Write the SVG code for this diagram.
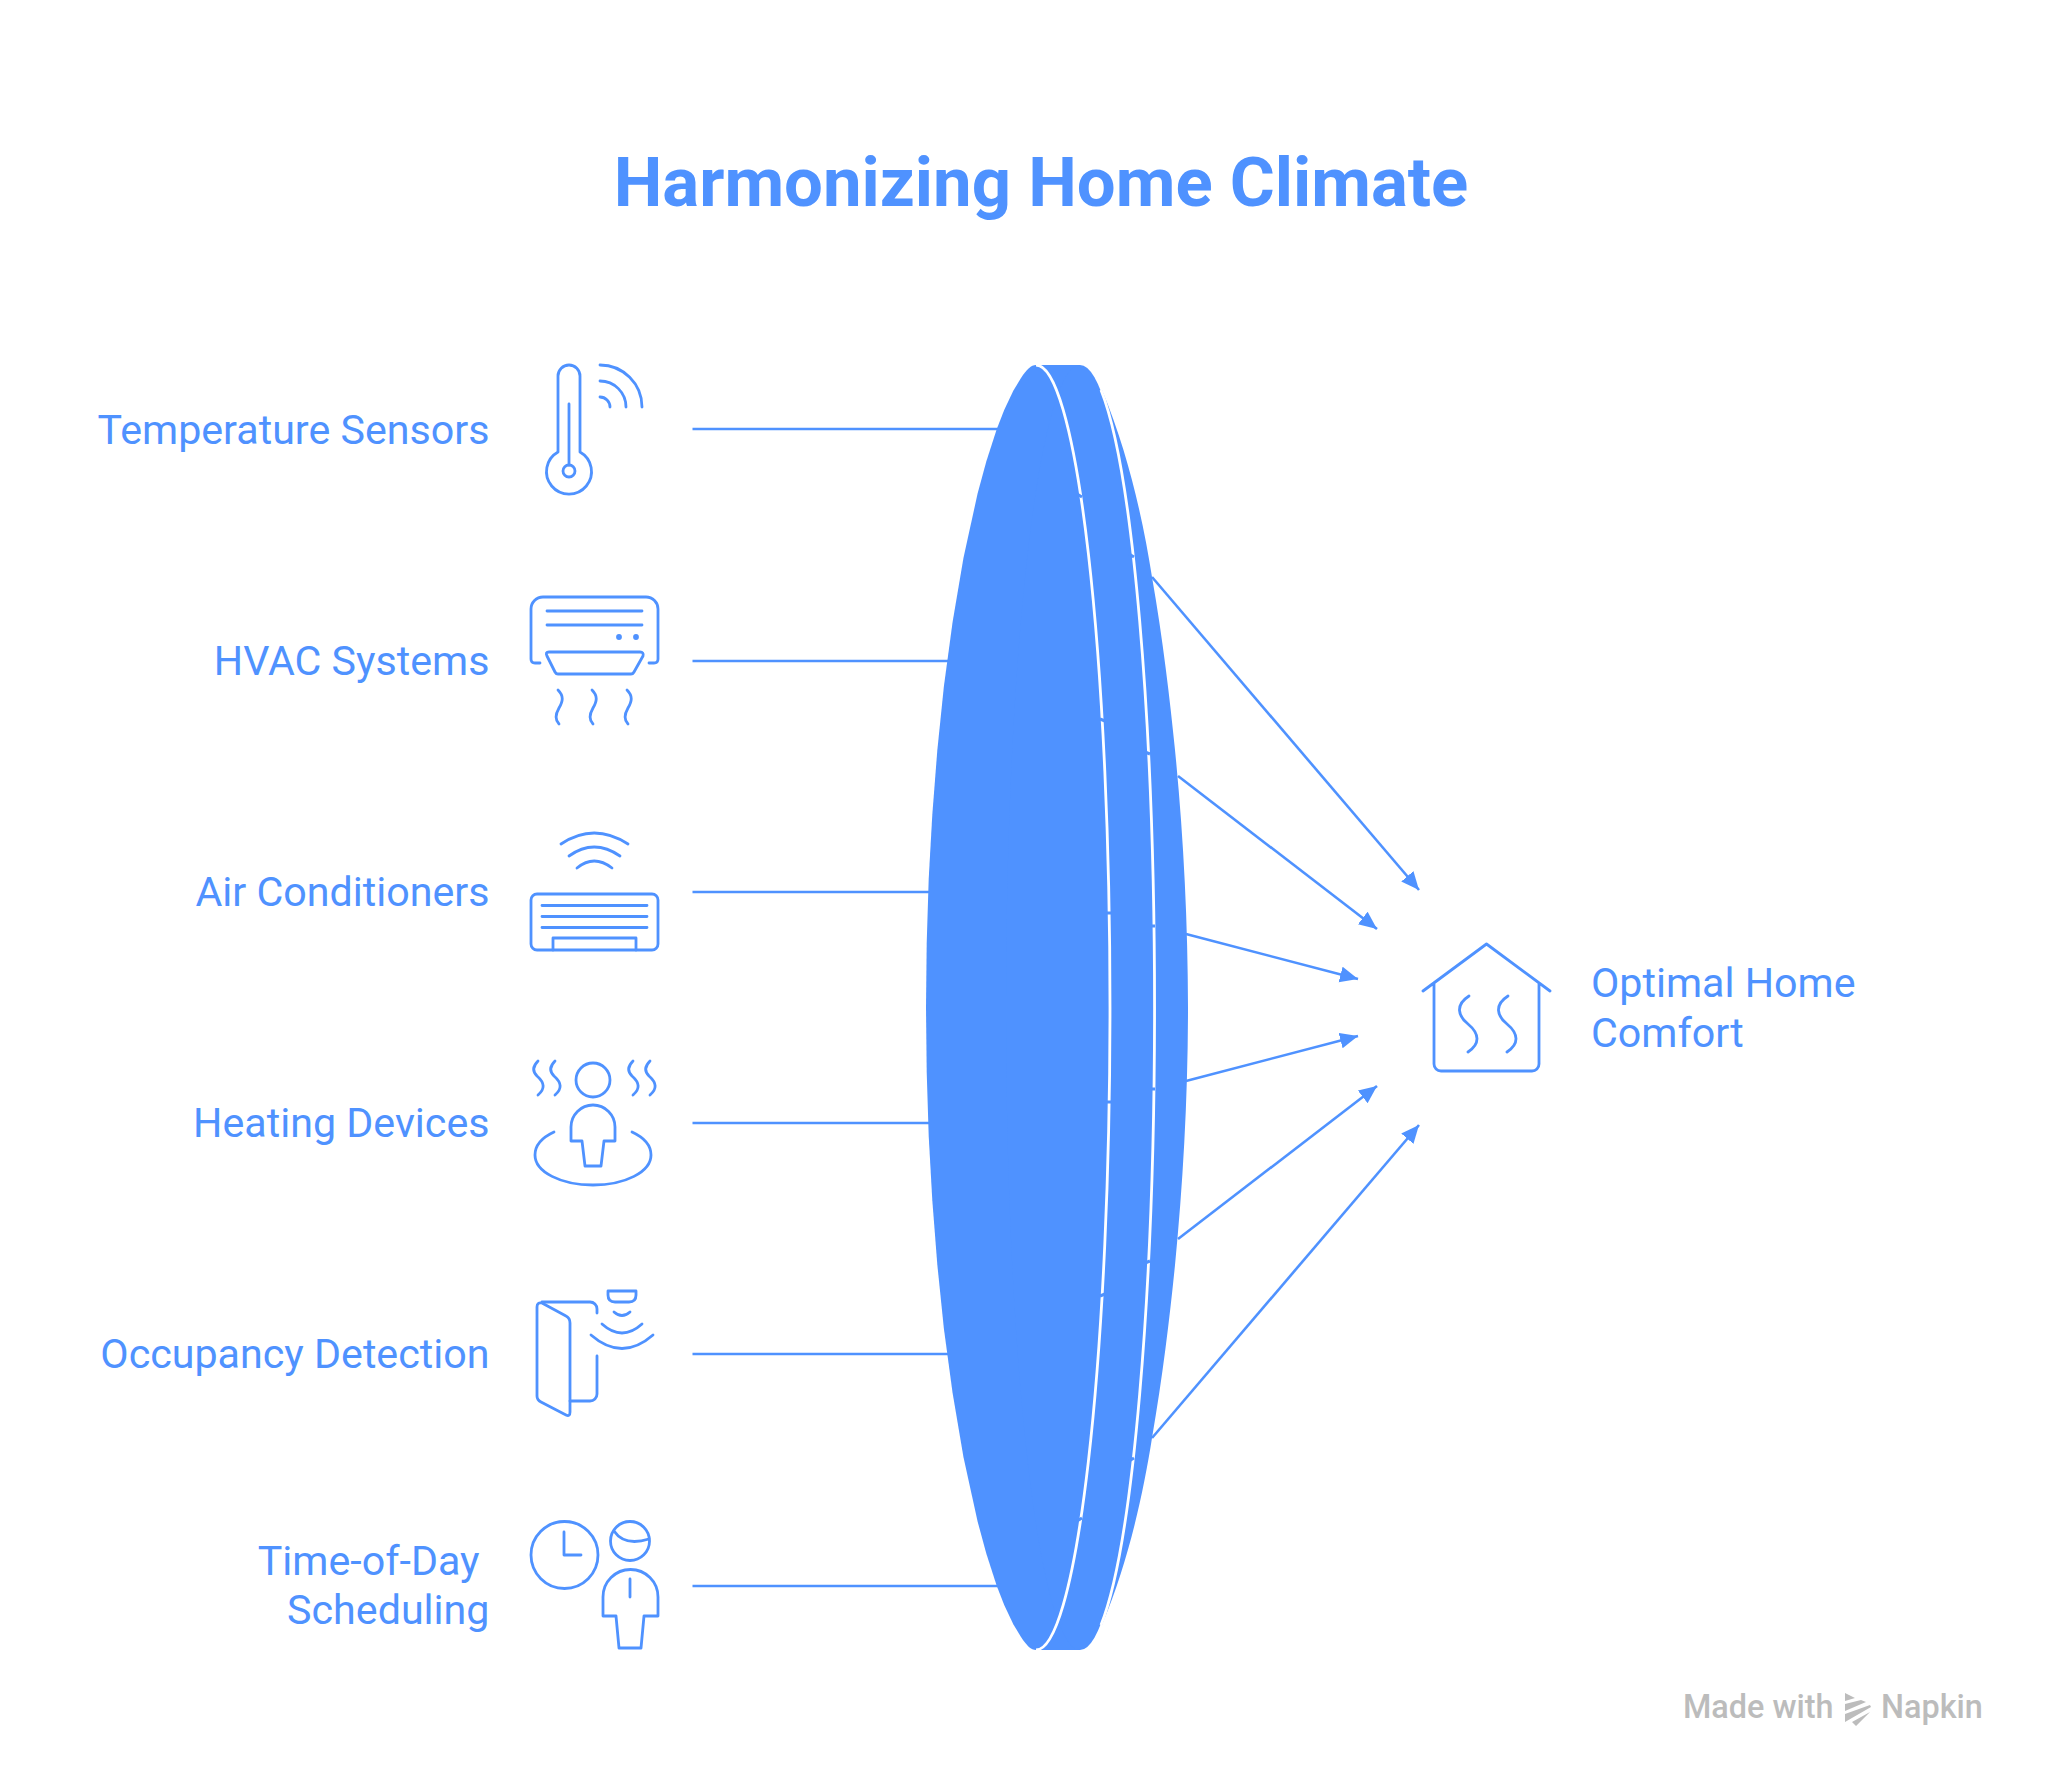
<svg xmlns="http://www.w3.org/2000/svg" width="2048" height="1784" viewBox="0 0 2048 1784">
<style>
.t{font-family:Roboto,"Liberation Sans",sans-serif;fill:#4f92ff;font-size:41.2px}
.e{text-anchor:end}
.i,.i *{fill:none;stroke:#4f92ff;stroke-width:2.8;stroke-linecap:round;stroke-linejoin:round}
.c{stroke:#4f92ff;stroke-width:2.6;fill:none}
.w{fill:none;stroke:#fff;stroke-width:2.8}
.k{fill:none;stroke:#4f92ff;stroke-width:3}
.b{fill:#4f92ff}
.g{font-family:Roboto,"Liberation Sans",sans-serif;font-size:32.4px;font-weight:500;fill:#bcbcbc}
</style>
<defs><marker id="a" markerUnits="userSpaceOnUse" markerWidth="20" markerHeight="20" refX="18" refY="8" orient="auto"><path d="M0 0L18 8L0 16Z" fill="#4f92ff"/></marker></defs>
<rect width="2048" height="1784" fill="#fff"/>
<text id="title" x="1041" y="206" text-anchor="middle" style="font-family:Roboto,'Liberation Sans',sans-serif;font-size:68.9px;font-weight:700;fill:#4f92ff">Harmonizing Home Climate</text>
<g id="connectors">
<path class="c" d="M692.500 429H1010M692.500 661H960M692.500 892H940M692.500 1123H940M692.500 1354H960M692.500 1586H1010"/>
<path class="c" marker-end="url(#a)" d="M1152 577L1419 890"/>
<path class="c" marker-end="url(#a)" d="M1178 776L1377 929"/>
<path class="c" marker-end="url(#a)" d="M1186 934L1358 979"/>
<path class="c" marker-end="url(#a)" d="M1186 1081L1358 1036"/>
<path class="c" marker-end="url(#a)" d="M1178 1239L1377 1086"/>
<path class="c" marker-end="url(#a)" d="M1152 1438L1419 1125"/>
</g>
<g id="lens">
<path class="b" d="M1036 365C1031 365 1027 369 1021 378L1013.300 390.700L1004.200 410L996.700 429.300L986.300 461.400L977.600 493.500L963.500 557.800L952.600 622L943.900 686.300L937.300 750.500L932.300 814.800L928.700 879L926.700 943.300L926 1007.500L926.700 1071.700L928.700 1136L932.300 1200.200L937.300 1264.500L943.900 1328.700L952.600 1393L963.500 1457.200L977.600 1521.500L986.300 1553.600L996.700 1585.700L1004.200 1605L1013.300 1624.300L1021 1637C1027 1646 1031 1650 1036 1650Z"/>
<rect class="b" x="1036" y="365" width="44" height="1285"/>
<ellipse class="b" cx="1080" cy="1007.5" rx="74" ry="642.5"/>
<path class="b" d="M1102 390C1128 452 1143 520 1152 577C1163 640 1170 700 1175 750C1183 830 1188 920 1188 1007.5C1188 1095 1183 1185 1175 1265C1170 1315 1163 1375 1152 1438C1143 1495 1128 1563 1102 1625Z"/>
<path class="w" d="M1036 365A74 642.5 0 0 1 1036 1650"/>
<path class="w" d="M1101 390A74 642.5 0 0 1 1101 1625"/>
<path class="k" d="M1077 494L1082 497M1100 719L1105 721M1107 913H1112M1107 1102H1112M1100 1296L1105 1294M1077 1521L1082 1518M1129 554L1134 557M1145 752L1150 754M1150 926H1155M1150 1089H1155M1145 1263L1150 1261M1129 1461L1134 1458"/>
</g>
<g id="n1"><text class="t e" x="489.500" y="444">Temperature Sensors</text>
<g class="i"><path d="M558 452V376A11 11 0 0 1 580 376V452A22.5 22.5 0 1 1 558 452Z"/><circle cx="569" cy="471" r="6"/><path d="M569 404V465M600 365A42 42 0 0 1 642 407M600 381A26 26 0 0 1 626 407M600 397A10 10 0 0 1 610 407"/></g></g>
<g id="n2"><text class="t e" x="489.500" y="675">HVAC Systems</text>
<g class="i"><path d="M540 663H535Q531 663 531 659V609A12 12 0 0 1 543 597H646A12 12 0 0 1 658 609V659Q658 663 654 663H649M547 611H642M547 625H642"/><path d="M549 652H640Q644 652 643 656L634 672Q633 674 631 674H558Q556 674 555 672L547 656Q545 652 549 652Z"/><circle cx="619" cy="637" r="1.5"/><circle cx="636" cy="637" r="1.5"/><path d="M558 690C564 696 563 701 559 708C555 715 555 720 559 724M592 690C598 696 597 701 593 708C589 715 589 720 593 724M627 690C633 696 632 701 628 708C624 715 624 720 628 724"/></g></g>
<g id="n3"><text class="t e" x="489.500" y="906">Air Conditioners</text>
<g class="i"><path d="M561 844Q594 822 628 844M569 856Q594 838 620 856M577 868Q594 854 612 868"/><rect x="531" y="894" width="127" height="56" rx="6"/><path d="M542 905.5H647M542 916.5H647M542 927.5H647M553 950V938H636V950"/></g></g>
<g id="n4"><text class="t e" x="489.500" y="1137">Heating Devices</text>
<g class="i"><circle cx="593" cy="1080" r="17"/><path d="M571 1141V1127A22 22 0 0 1 615 1127V1141H604L601 1166H585L582 1141Z"/><path d="M554 1132C541 1138 535 1146 535 1155C535 1172 561 1185 593 1185C625 1185 651 1172 651 1155C651 1146 645 1138 632 1132"/><path d="M538 1061C532 1067 533 1072 537 1076C545 1083 545 1089 538 1095M555 1061C549 1067 550 1072 554 1076C562 1083 562 1089 555 1095M633 1061C627 1067 628 1072 632 1076C640 1083 640 1089 633 1095M650 1061C644 1067 645 1072 649 1076C657 1083 657 1089 650 1095"/></g></g>
<g id="n5"><text class="t e" x="489.500" y="1368">Occupancy Detection</text>
<g class="i"><path d="M597 1313V1309A7 7 0 0 0 590 1302H542M570 1401H590A7 7 0 0 0 597 1394V1356"/><path d="M542 1303L566 1316Q570 1318 570 1323V1412Q570 1417 566 1415L541 1402Q537 1400 537 1396V1307Q537 1302 542 1303Z"/><path d="M608 1291H636V1295Q636 1302 629 1302H615Q608 1302 608 1295ZM614 1312Q622 1319 630 1312M602 1324Q622 1342 642 1324M591 1335Q622 1362 653 1335"/></g></g>
<g id="n6"><text class="t e" x="479.500" y="1575">Time-of-Day</text><text class="t e" x="489.500" y="1624">Scheduling</text>
<g class="i"><circle cx="564.500" cy="1555" r="33.5"/><path d="M564 1532V1555H581"/><circle cx="630" cy="1541" r="19.5"/><path d="M614 1531C622 1543 636 1543 649 1539M603 1616V1597A27.5 27.5 0 0 1 658 1597V1616H644L641 1648H619L616 1616ZM630 1579V1597"/></g></g>
<g id="n7"><text class="t" x="1591" y="997">Optimal Home</text><text class="t" x="1591" y="1047">Comfort</text>
<g class="i"><path d="M1423 991L1486.5 944L1550 991M1434 983V1064A7 7 0 0 0 1441 1071H1532A7 7 0 0 0 1539 1064V983"/><path d="M1469 996C1455 1005 1458 1016 1468 1024C1480 1034 1480 1044 1468 1052M1508 996C1494 1005 1497 1016 1507 1024C1519 1034 1519 1044 1507 1052"/></g></g>
<g id="logo"><text class="g" x="1683" y="1718">Made with</text><text class="g" x="1881" y="1718">Napkin</text>
<path fill="#bcbcbc" d="M1845 1693L1855 1698L1845 1701ZM1845 1704L1861 1700L1866 1702L1845 1711ZM1845 1714L1870 1705L1871 1707L1845 1722ZM1852 1722L1870 1712L1856 1726Z"/></g>
</svg>
